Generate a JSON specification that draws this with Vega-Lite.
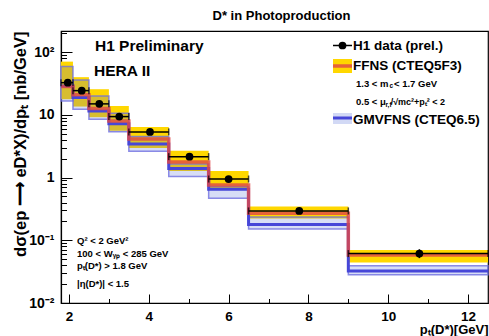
{
  "$schema": "https://vega.github.io/schema/vega-lite/v6.json",
  "width": 427,
  "height": 272,
  "autosize": {"type": "none"},
  "padding": {"left": 61, "top": 31, "right": 1, "bottom": 33},
  "background": "white",
  "config": {
    "view": {"stroke": "black", "strokeWidth": 1.2},
    "font": "Liberation Sans",
    "text": {"font": "Liberation Sans", "fontWeight": "bold", "color": "black"}
  },
  "title": {
    "text": "D* in Photoproduction",
    "font": "Liberation Sans",
    "fontSize": 13,
    "fontWeight": "bold",
    "color": "black",
    "anchor": "middle",
    "dx": 7,
    "offset": 3
  },
  "datasets": {
    "theory": [
      {"bin": 1, "xlo": 1.8, "xhi": 2.1, "ff": 28.3, "ff_lo": 17.8, "ff_hi": 70.8, "gm": 29, "gm_lo": 16.7, "gm_hi": 59},
      {"bin": 2, "xlo": 2.1, "xhi": 2.5, "ff": 21, "ff_lo": 13.6, "ff_hi": 40, "gm": 19, "gm_lo": 12.3, "gm_hi": 36},
      {"bin": 3, "xlo": 2.5, "xhi": 3.0, "ff": 12.6, "ff_lo": 9.2, "ff_hi": 25.7, "gm": 11.5, "gm_lo": 8.5, "gm_hi": 20},
      {"bin": 4, "xlo": 3.0, "xhi": 3.5, "ff": 8.0, "ff_lo": 5.6, "ff_hi": 13.9, "gm": 7.2, "gm_lo": 5.4, "gm_hi": 10.6},
      {"bin": 5, "xlo": 3.5, "xhi": 4.5, "ff": 4.14, "ff_lo": 2.98, "ff_hi": 6.44, "gm": 3.45, "gm_lo": 2.64, "gm_hi": 4.51},
      {"bin": 6, "xlo": 4.5, "xhi": 5.5, "ff": 1.78, "ff_lo": 1.28, "ff_hi": 2.67, "gm": 1.40, "gm_lo": 1.045, "gm_hi": 1.65},
      {"bin": 7, "xlo": 5.5, "xhi": 6.5, "ff": 0.765, "ff_lo": 0.64, "ff_hi": 1.28, "gm": 0.65, "gm_lo": 0.47, "gm_hi": 0.72},
      {"bin": 8, "xlo": 6.5, "xhi": 9.0, "ff": 0.269, "ff_lo": 0.223, "ff_hi": 0.345, "gm": 0.179, "gm_lo": 0.152, "gm_hi": 0.236},
      {"bin": 9, "xlo": 9.0, "xhi": 12.5, "ff": 0.0585, "ff_lo": 0.0441, "ff_hi": 0.0703, "gm": 0.0325, "gm_lo": 0.0281, "gm_hi": 0.0391}
    ],
    "h1": [
      {"pt": 1.97, "xlo": 1.8, "xhi": 2.1, "sigma": 32.7, "elo": 29.5, "ehi": 36.0},
      {"pt": 2.32, "xlo": 2.1, "xhi": 2.5, "sigma": 24.4, "elo": 22.0, "ehi": 26.8},
      {"pt": 2.76, "xlo": 2.5, "xhi": 3.0, "sigma": 15.0, "elo": 13.5, "ehi": 16.5},
      {"pt": 3.26, "xlo": 3.0, "xhi": 3.5, "sigma": 9.4, "elo": 8.5, "ehi": 10.3},
      {"pt": 4.03, "xlo": 3.5, "xhi": 4.5, "sigma": 5.36, "elo": 4.85, "ehi": 5.9},
      {"pt": 5.02, "xlo": 4.5, "xhi": 5.5, "sigma": 2.16, "elo": 1.95, "ehi": 2.38},
      {"pt": 6.0, "xlo": 5.5, "xhi": 6.5, "sigma": 0.95, "elo": 0.85, "ehi": 1.05},
      {"pt": 7.77, "xlo": 6.5, "xhi": 9.0, "sigma": 0.294, "elo": 0.265, "ehi": 0.325},
      {"pt": 10.78, "xlo": 9.0, "xhi": 12.5, "sigma": 0.0614, "elo": 0.052, "ehi": 0.072}
    ],
    "one": [{}]
  },
  "layer": [
    {
      "data": {"name": "theory"},
      "mark": {"type": "rect", "fill": "#FFD700", "strokeWidth": 0},
      "encoding": {
        "x": {
          "field": "xlo", "type": "quantitative",
          "scale": {"type": "linear", "domain": [1.8, 12.5], "nice": false, "zero": false},
          "axis": {
            "values": [2, 2.5, 3, 3.5, 4, 4.5, 5, 5.5, 6, 6.5, 7, 7.5, 8, 8.5, 9, 9.5, 10, 10.5, 11, 11.5, 12, 12.5],
            "labelExpr": "datum.value % 2 == 0 ? datum.label : ''",
            "labelFont": "Liberation Sans", "labelFontSize": 13.5, "labelFontWeight": "bold", "labelColor": "black",
            "labelPadding": 15, "labelOverlap": false, "labelFlush": false, "labelBound": false,
            "tickSize": {"condition": {"test": "datum.value % 2 == 0", "value": -9}, "value": -4.5},
            "tickColor": "black", "tickWidth": 1, "domainColor": "black", "domainWidth": 1.2, "grid": false,
            "title": "pₜ(D*)[GeV]", "titleFont": "Liberation Sans", "titleFontSize": 13, "titleFontWeight": "bold",
            "titleColor": "black", "titleAlign": "right", "titleBaseline": "alphabetic", "titleX": 427, "titleY": 30.5
          }
        },
        "x2": {"field": "xhi"},
        "y": {
          "field": "ff_lo", "type": "quantitative",
          "scale": {"type": "log", "domain": [0.01, 218], "nice": false},
          "axis": {
            "values": [0.01, 0.02, 0.03, 0.04, 0.05, 0.06, 0.07, 0.08, 0.09, 0.1, 0.2, 0.3, 0.4, 0.5, 0.6, 0.7, 0.8, 0.9, 1, 2, 3, 4, 5, 6, 7, 8, 9, 10, 20, 30, 40, 50, 60, 70, 80, 90, 100, 200],
            "labelExpr": "datum.value == 100 ? '10²' : datum.value == 10 ? '10' : datum.value == 1 ? '1' : datum.value == 0.1 ? '10⁻¹' : datum.value == 0.01 ? '10⁻²' : ''",
            "labelFont": "Liberation Sans", "labelFontSize": 14, "labelFontWeight": "bold", "labelColor": "black",
            "labelPadding": 18, "labelOverlap": false, "labelFlush": false, "labelBound": false,
            "tickSize": {"condition": {"test": "datum.value == 100 || datum.value == 10 || datum.value == 1 || datum.value == 0.1 || datum.value == 0.01", "value": -11}, "value": -5.5},
            "tickColor": "black", "tickWidth": 1, "domainColor": "black", "domainWidth": 1.2, "grid": false,
            "title": "dσ(ep ⟶ eD*X)/dpₜ [nb/GeV]", "titleFont": "Liberation Sans", "titleFontSize": 16.5, "titleFontWeight": "bold",
            "titleColor": "black", "titleAngle": 270, "titleAlign": "right", "titleBaseline": "middle", "titleX": -41, "titleY": 0
          }
        },
        "y2": {"field": "ff_hi"}
      }
    },
    {
      "data": {"name": "theory"},
      "mark": {"type": "rect", "fill": "#4a66d8", "fillOpacity": 0.22, "stroke": "#6f6fe0", "strokeWidth": 1.5, "strokeOpacity": 0.8},
      "encoding": {
        "x": {"field": "xlo", "type": "quantitative"},
        "x2": {"field": "xhi"},
        "y": {"field": "gm_lo", "type": "quantitative"},
        "y2": {"field": "gm_hi"}
      }
    },
    {
      "data": {"name": "theory"},
      "transform": [{"fold": ["xlo", "xhi"], "as": ["edge", "xe"]}],
      "mark": {"type": "line", "stroke": "#4646d8", "strokeWidth": 3},
      "encoding": {
        "x": {"field": "xe", "type": "quantitative"},
        "y": {"field": "gm", "type": "quantitative"},
        "order": {"value": null}
      }
    },
    {
      "data": {"name": "theory"},
      "transform": [{"fold": ["xlo", "xhi"], "as": ["edge", "xe"]}],
      "mark": {"type": "line", "stroke": "#e04646", "strokeWidth": 3.5, "opacity": 0.8},
      "encoding": {
        "x": {"field": "xe", "type": "quantitative"},
        "y": {"field": "ff", "type": "quantitative"},
        "order": {"value": null}
      }
    },
    {
      "data": {"name": "h1"},
      "mark": {"type": "rule", "color": "black", "strokeWidth": 1.5},
      "encoding": {
        "x": {"field": "xlo", "type": "quantitative"},
        "x2": {"field": "xhi"},
        "y": {"field": "sigma", "type": "quantitative"}
      }
    },
    {
      "data": {"name": "h1"},
      "mark": {"type": "rule", "color": "black", "strokeWidth": 1.5},
      "encoding": {
        "x": {"field": "pt", "type": "quantitative"},
        "y": {"field": "elo", "type": "quantitative"},
        "y2": {"field": "ehi"}
      }
    },
    {
      "data": {"name": "h1"},
      "mark": {"type": "tick", "orient": "vertical", "color": "black", "size": 7, "thickness": 1.5},
      "encoding": {
        "x": {"field": "xlo", "type": "quantitative"},
        "y": {"field": "sigma", "type": "quantitative"}
      }
    },
    {
      "data": {"name": "h1"},
      "mark": {"type": "tick", "orient": "vertical", "color": "black", "size": 7, "thickness": 1.5},
      "encoding": {
        "x": {"field": "xhi", "type": "quantitative"},
        "y": {"field": "sigma", "type": "quantitative"}
      }
    },
    {
      "data": {"name": "h1"},
      "mark": {"type": "point", "shape": "circle", "filled": true, "color": "black", "size": 60, "opacity": 1},
      "encoding": {
        "x": {"field": "pt", "type": "quantitative"},
        "y": {"field": "sigma", "type": "quantitative"}
      }
    },
    {
      "data": {"name": "one"},
      "mark": {"type": "text", "text": "H1 Preliminary", "fontSize": 15.5, "align": "left", "baseline": "middle"},
      "encoding": {"x": {"datum": 2.652, "type": "quantitative"}, "y": {"datum": 127, "type": "quantitative"}}
    },
    {
      "data": {"name": "one"},
      "mark": {"type": "text", "text": "HERA II", "fontSize": 15.5, "align": "left", "baseline": "middle"},
      "encoding": {"x": {"datum": 2.627, "type": "quantitative"}, "y": {"datum": 50.2, "type": "quantitative"}}
    },
    {
      "data": {"name": "one"},
      "mark": {"type": "rule", "color": "black", "strokeWidth": 1.5},
      "encoding": {"x": {"datum": 8.616, "type": "quantitative"}, "x2": {"datum": 9.092}, "y": {"datum": 128, "type": "quantitative"}}
    },
    {
      "data": {"name": "one"},
      "mark": {"type": "point", "shape": "circle", "filled": true, "color": "black", "size": 60, "opacity": 1},
      "encoding": {"x": {"datum": 8.854, "type": "quantitative"}, "y": {"datum": 128, "type": "quantitative"}}
    },
    {
      "data": {"name": "one"},
      "mark": {"type": "text", "text": "H1 data (prel.)", "fontSize": 13.5, "align": "left", "baseline": "middle"},
      "encoding": {"x": {"datum": 9.117, "type": "quantitative"}, "y": {"datum": 126, "type": "quantitative"}}
    },
    {
      "data": {"name": "one"},
      "mark": {"type": "rect", "fill": "#FFD700", "strokeWidth": 0},
      "encoding": {"x": {"datum": 8.616, "type": "quantitative"}, "x2": {"datum": 9.092}, "y": {"datum": 46.6, "type": "quantitative"}, "y2": {"datum": 78}}
    },
    {
      "data": {"name": "one"},
      "mark": {"type": "rule", "color": "#e04646", "strokeWidth": 3.5, "opacity": 0.8},
      "encoding": {"x": {"datum": 8.616, "type": "quantitative"}, "x2": {"datum": 9.092}, "y": {"datum": 60.3, "type": "quantitative"}}
    },
    {
      "data": {"name": "one"},
      "mark": {"type": "text", "text": "FFNS (CTEQ5F3)", "fontSize": 13.5, "align": "left", "baseline": "middle"},
      "encoding": {"x": {"datum": 9.117, "type": "quantitative"}, "y": {"datum": 59.6, "type": "quantitative"}}
    },
    {
      "data": {"name": "one"},
      "mark": {"type": "text", "text": "1.3 < m", "fontSize": 9.5, "align": "left", "baseline": "middle"},
      "encoding": {"x": {"datum": 9.192, "type": "quantitative"}, "y": {"datum": 31.1, "type": "quantitative"}}
    },
    {
      "data": {"name": "one"},
      "mark": {"type": "text", "text": "c", "fontSize": 6.5, "align": "left", "baseline": "middle"},
      "encoding": {"x": {"datum": 10.03, "type": "quantitative"}, "y": {"datum": 28.4, "type": "quantitative"}}
    },
    {
      "data": {"name": "one"},
      "mark": {"type": "text", "text": "< 1.7 GeV", "fontSize": 9.5, "align": "left", "baseline": "middle"},
      "encoding": {"x": {"datum": 10.144, "type": "quantitative"}, "y": {"datum": 31.1, "type": "quantitative"}}
    },
    {
      "data": {"name": "one"},
      "mark": {"type": "text", "text": "0.5 < μ", "fontSize": 9.5, "align": "left", "baseline": "middle"},
      "encoding": {"x": {"datum": 9.192, "type": "quantitative"}, "y": {"datum": 16.07, "type": "quantitative"}}
    },
    {
      "data": {"name": "one"},
      "mark": {"type": "text", "text": "r,f", "fontSize": 6.5, "align": "left", "baseline": "middle"},
      "encoding": {"x": {"datum": 9.93, "type": "quantitative"}, "y": {"datum": 14.2, "type": "quantitative"}}
    },
    {
      "data": {"name": "one"},
      "mark": {"type": "text", "text": "/√mc²+pₜ² < 2", "fontSize": 9, "align": "left", "baseline": "middle"},
      "encoding": {"x": {"datum": 10.06, "type": "quantitative"}, "y": {"datum": 16.07, "type": "quantitative"}}
    },
    {
      "data": {"name": "one"},
      "mark": {"type": "rect", "fill": "#4a66d8", "fillOpacity": 0.25, "strokeWidth": 0},
      "encoding": {"x": {"datum": 8.616, "type": "quantitative"}, "x2": {"datum": 9.092}, "y": {"datum": 7.16, "type": "quantitative"}, "y2": {"datum": 10.73}}
    },
    {
      "data": {"name": "one"},
      "mark": {"type": "rule", "color": "#4646d8", "strokeWidth": 3},
      "encoding": {"x": {"datum": 8.616, "type": "quantitative"}, "x2": {"datum": 9.092}, "y": {"datum": 8.93, "type": "quantitative"}}
    },
    {
      "data": {"name": "one"},
      "mark": {"type": "text", "text": "GMVFNS (CTEQ6.5)", "fontSize": 13.5, "align": "left", "baseline": "middle"},
      "encoding": {"x": {"datum": 9.117, "type": "quantitative"}, "y": {"datum": 8.3, "type": "quantitative"}}
    },
    {
      "data": {"name": "one"},
      "mark": {"type": "text", "text": "Q² < 2 GeV²", "fontSize": 9.5, "align": "left", "baseline": "middle"},
      "encoding": {"x": {"datum": 2.201, "type": "quantitative"}, "y": {"datum": 0.0974, "type": "quantitative"}}
    },
    {
      "data": {"name": "one"},
      "mark": {"type": "text", "text": "100 < Wᵧₚ < 285 GeV", "fontSize": 9.5, "align": "left", "baseline": "middle"},
      "encoding": {"x": {"datum": 2.201, "type": "quantitative"}, "y": {"datum": 0.0604, "type": "quantitative"}}
    },
    {
      "data": {"name": "one"},
      "mark": {"type": "text", "text": "pₜ(D*) > 1.8 GeV", "fontSize": 9.5, "align": "left", "baseline": "middle"},
      "encoding": {"x": {"datum": 2.201, "type": "quantitative"}, "y": {"datum": 0.0389, "type": "quantitative"}}
    },
    {
      "data": {"name": "one"},
      "mark": {"type": "text", "text": "|η(D*)| < 1.5", "fontSize": 9.5, "align": "left", "baseline": "middle"},
      "encoding": {"x": {"datum": 2.201, "type": "quantitative"}, "y": {"datum": 0.0201, "type": "quantitative"}}
    }
  ]
}
